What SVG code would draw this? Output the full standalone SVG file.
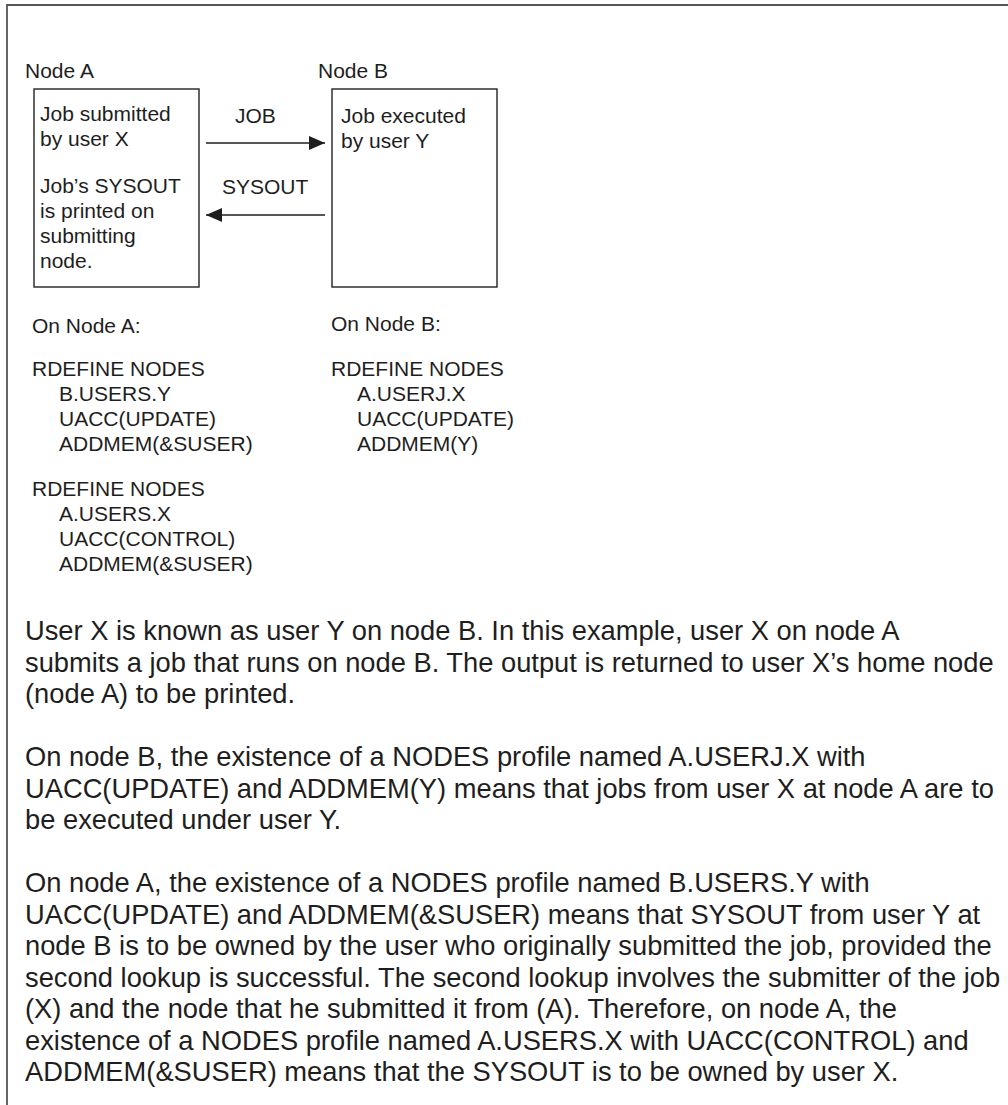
<svg xmlns="http://www.w3.org/2000/svg" width="1008" height="1105" viewBox="0 0 1008 1105">
  <style>
    text { font-family: "Liberation Sans", Arial, sans-serif; fill: #1e1e1e; }
    .sm { font-size: 21px; }
    .para { font-size: 27.3px; }
    .box { fill: #ffffff; stroke: #222222; stroke-width: 1.4; }
    .frame { fill: none; stroke: #555555; stroke-width: 1.8; }
    .link { stroke: #1e1e1e; stroke-width: 1.4; fill: none; }
  </style>
  <defs>
    <marker id="arrow" viewBox="0 0 16 14" refX="16" refY="7" markerWidth="16" markerHeight="14" markerUnits="userSpaceOnUse" orient="auto">
      <path d="M0,0 L16,7 L0,14 Z" fill="#1e1e1e"/>
    </marker>
  </defs>

  <rect width="1008" height="1105" fill="#ffffff"/>

  <!-- page frame: top and left rules -->
  <path class="frame" d="M7,1105 L7,5 L1008,5"/>

  <!-- Node A -->
  <g id="node-a">
    <text class="sm" x="25" y="78">Node A</text>
    <rect class="box" x="34" y="89" width="165" height="198"/>
    <text class="sm" x="40" y="121">Job submitted</text>
    <text class="sm" x="40" y="146">by user X</text>
    <text class="sm" x="40" y="193">Job’s SYSOUT</text>
    <text class="sm" x="40" y="218">is printed on</text>
    <text class="sm" x="40" y="243">submitting</text>
    <text class="sm" x="40" y="268">node.</text>
  </g>

  <!-- Node B -->
  <g id="node-b">
    <text class="sm" x="318" y="78">Node B</text>
    <rect class="box" x="332" y="89" width="165" height="198"/>
    <text class="sm" x="341" y="123">Job executed</text>
    <text class="sm" x="341" y="148">by user Y</text>
  </g>

  <!-- Connectors between the nodes -->
  <g id="connectors">
    <line class="link" x1="206" y1="143" x2="325" y2="143" marker-end="url(#arrow)"/>
    <text class="sm" x="235" y="123">JOB</text>
    <line class="link" x1="325" y1="215" x2="206" y2="215" marker-end="url(#arrow)"/>
    <text class="sm" x="222" y="194">SYSOUT</text>
  </g>

  <!-- Profile definitions on node A -->
  <g id="defs-node-a">
    <text class="sm" x="32" y="333">On Node A:</text>
    <text class="sm" x="32" y="376">RDEFINE NODES</text>
    <text class="sm" x="59" y="401">B.USERS.Y</text>
    <text class="sm" x="59" y="426">UACC(UPDATE)</text>
    <text class="sm" x="59" y="451">ADDMEM(&amp;SUSER)</text>
    <text class="sm" x="32" y="496">RDEFINE NODES</text>
    <text class="sm" x="59" y="521">A.USERS.X</text>
    <text class="sm" x="59" y="546">UACC(CONTROL)</text>
    <text class="sm" x="59" y="571">ADDMEM(&amp;SUSER)</text>
  </g>

  <!-- Profile definitions on node B -->
  <g id="defs-node-b">
    <text class="sm" x="331" y="331">On Node B:</text>
    <text class="sm" x="331" y="376">RDEFINE NODES</text>
    <text class="sm" x="357" y="401">A.USERJ.X</text>
    <text class="sm" x="357" y="426">UACC(UPDATE)</text>
    <text class="sm" x="357" y="451">ADDMEM(Y)</text>
  </g>

  <!-- Explanatory paragraphs -->
  <g id="explanation">
    <text class="para" x="25" y="640">User X is known as user Y on node B. In this example, user X on node A</text>
    <text class="para" x="25" y="671.5">submits a job that runs on node B. The output is returned to user X’s home node</text>
    <text class="para" x="25" y="703">(node A) to be printed.</text>

    <text class="para" x="25" y="766">On node B, the existence of a NODES profile named A.USERJ.X with</text>
    <text class="para" x="25" y="797.5">UACC(UPDATE) and ADDMEM(Y) means that jobs from user X at node A are to</text>
    <text class="para" x="25" y="829">be executed under user Y.</text>

    <text class="para" x="25" y="892">On node A, the existence of a NODES profile named B.USERS.Y with</text>
    <text class="para" x="25" y="923.5">UACC(UPDATE) and ADDMEM(&amp;SUSER) means that SYSOUT from user Y at</text>
    <text class="para" x="25" y="955">node B is to be owned by the user who originally submitted the job, provided the</text>
    <text class="para" x="25" y="986.5">second lookup is successful. The second lookup involves the submitter of the job</text>
    <text class="para" x="25" y="1018">(X) and the node that he submitted it from (A). Therefore, on node A, the</text>
    <text class="para" x="25" y="1049.5">existence of a NODES profile named A.USERS.X with UACC(CONTROL) and</text>
    <text class="para" x="25" y="1081">ADDMEM(&amp;SUSER) means that the SYSOUT is to be owned by user X.</text>
  </g>
</svg>
